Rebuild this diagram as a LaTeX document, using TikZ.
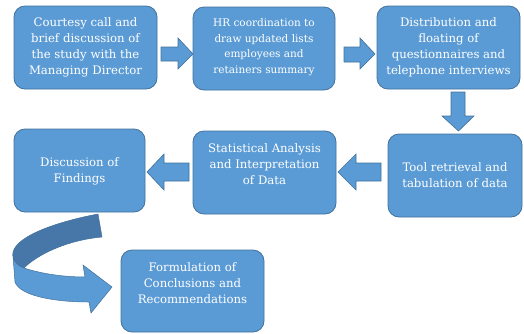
\documentclass[tikz,border=0pt]{standalone}
\usepackage{fontspec}
\setmainfont{DejaVu Serif}
\definecolor{boxfill}{HTML}{5B9BD5}
\definecolor{boxline}{HTML}{41719C}
\definecolor{ribdark}{HTML}{4677A8}
\begin{document}
\begin{tikzpicture}[x=1pt,y=-1pt,
  box/.style={draw=boxline,line width=0.8pt,fill=boxfill,rounded corners=11pt,inner sep=0pt},
  txt/.style={text=white,align=center,inner sep=0pt,font=\fontsize{11.7}{16}\selectfont},
  txtsm/.style={text=white,align=center,inner sep=0pt,font=\fontsize{10.5}{15.5}\selectfont},
  barrow/.style={draw=boxline,line width=0.6pt,fill=boxfill,line join=miter}]
\useasboundingbox (0,0) rectangle (524,333);
% boxes
\node[box,minimum width=143,minimum height=83] (b1) at (85.5,47.5) {};
\node[box,minimum width=142,minimum height=83] (b2) at (264,48.5) {};
\node[box,minimum width=143,minimum height=83] (b3) at (448.5,47.5) {};
\node[box,minimum width=134,minimum height=83] (b4) at (455,175.5) {};
\node[box,minimum width=143,minimum height=83] (b5) at (264.5,172.5) {};
\node[box,minimum width=131,minimum height=83] (b6) at (79.5,170.5) {};
\node[box,minimum width=143,minimum height=82] (b7) at (192.5,291) {};
% texts
\node[txt] (t1) at (85.5,47) {Courtesy call and\\brief discussion of\\the study with the\\Managing Director};
\node[txtsm] (t2) at (264,47) {HR coordination to\\draw updated lists\\employees and\\retainers summary};
\node[txt] (t3) at (448.5,47) {Distribution and\\floating of\\questionnaires and\\telephone interviews};
\node[txt] (t4) at (455,175.5) {Tool retrieval and\\tabulation of data};
\node[txt] (t5) at (264.5,164.5) {Statistical Analysis\\and Interpretation\\of Data};
\node[txt] (t6) at (79.5,171) {Discussion of\\Findings};
\node[txt] (t7) at (192.5,283) {Formulation of\\Conclusions and\\Recommendations};
% block arrows
\draw[barrow] (161,47) -- (178,47) -- (178,38) -- (193,54) -- (178,69) -- (178,61) -- (161,61) -- cycle;
\draw[barrow] (344,47) -- (360,47) -- (360,38) -- (375,54) -- (360,69) -- (360,62) -- (344,62) -- cycle;
\draw[barrow] (451,92) -- (465,92) -- (465,116) -- (474,116) -- (458.5,131) -- (442,116) -- (451,116) -- cycle;
\draw[barrow] (381,163) -- (356,163) -- (356,154) -- (338,172) -- (356,190) -- (356,181) -- (381,181) -- cycle;
\draw[barrow] (189,163) -- (164,163) -- (164,154) -- (147,172) -- (164,190) -- (164,181) -- (189,181) -- cycle;
% curved ribbon arrow
\draw[boxline,line width=0.5pt,fill=ribdark] (98,214) .. controls (55,222) and (10,238) .. (13,256)
  .. controls (14,262) and (18,266) .. (24,268)
  .. controls (38,254) and (68,240) .. (102,237) -- cycle;
\draw[barrow,line width=0.5pt] (13,256) .. controls (14,262) and (18,266) .. (24,268)
  .. controls (42,274) and (65,277) .. (85,277) -- (83,265) -- (112,287) -- (91,313) -- (89,302)
  .. controls (55,302) and (20,296) .. (15,282) -- cycle;
\end{tikzpicture}
\end{document}
